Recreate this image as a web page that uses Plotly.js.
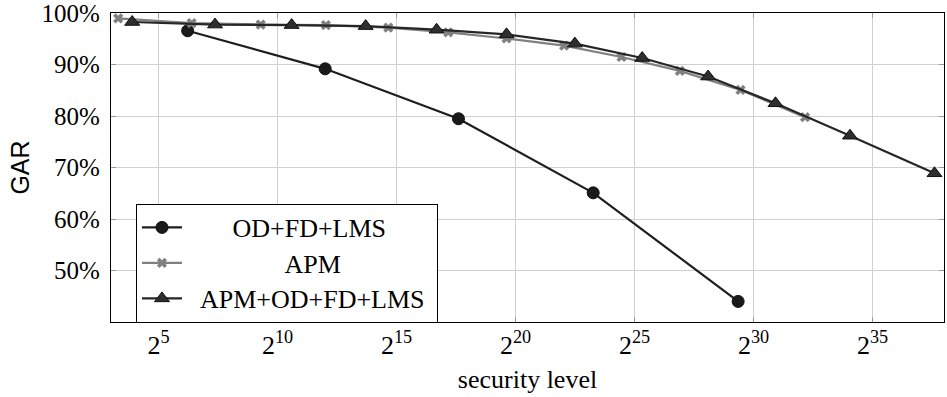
<!DOCTYPE html>
<html>
<head>
<meta charset="utf-8">
<script src="https://cdn.plot.ly/plotly-3.0.1.min.js"></script>
<style>html,body{margin:0;padding:0;background:#fff;}#chart{width:947px;height:397px;}</style>
</head>
<body>
<div id="chart"></div>
<script>
// Data (x = log2 of security level, y = GAR in %)
const odX = [6.22, 12.0, 17.6, 23.26, 29.35];
const odY = [96.6, 89.2, 79.5, 65.1, 44.0];
const apmX = [3.30, 6.39, 9.29, 12.03, 14.65, 17.17, 19.62, 22.04, 24.45, 26.9, 29.45, 32.16];
const apmY = [99.0, 98.1, 97.8, 97.7, 97.2, 96.3, 95.1, 93.7, 91.5, 88.8, 85.1, 79.8];
const allX = [3.89, 7.37, 10.59, 13.7, 16.68, 19.62, 22.49, 25.32, 28.09, 30.92, 34.05, 37.6];
const allY = [98.3, 97.8, 97.7, 97.5, 96.8, 95.9, 94.1, 91.3, 87.7, 82.5, 76.2, 68.9];
const seriesNames = ['OD+FD+LMS', 'APM', 'APM+OD+FD+LMS'];
const xTickVals = [5, 10, 15, 20, 25, 30, 35];
const xTickText = ['2<sup>5</sup>', '2<sup>10</sup>', '2<sup>15</sup>', '2<sup>20</sup>', '2<sup>25</sup>', '2<sup>30</sup>', '2<sup>35</sup>'];
const yTickVals = [50, 60, 70, 80, 90, 100];
const yTickText = ['50%', '60%', '70%', '80%', '90%', '100%'];

const serif = '"Liberation Serif", "Times New Roman", serif';
const sans = '"Liberation Sans", Arial, sans-serif';
const nb = n => '\u00a0'.repeat(n);
const big = s => '<span style="font-size:26px">' + s + '</span>';

const traces = [
  {x: odX, y: odY, name: big(nb(7) + seriesNames[0]), mode: 'lines+markers', type: 'scatter',
   line: {color: '#1e1e1e', width: 2.2},
   marker: {symbol: 'circle', size: 12, color: '#1a1a1a', line: {color: '#111', width: 1}}},
  {x: apmX, y: apmY, name: big(nb(15) + seriesNames[1]), mode: 'lines+markers', type: 'scatter',
   line: {color: '#808080', width: 2.2},
   marker: {symbol: 'x', size: 9, color: '#808080', line: {width: 0}}},
  {x: allX, y: allY, name: big(nb(2) + seriesNames[2] + nb(1)), mode: 'lines+markers', type: 'scatter',
   line: {color: '#262626', width: 2.2},
   marker: {symbol: 'triangle-up', size: 13, color: '#2e2e2e', line: {color: '#111', width: 1}}}
];

const layout = {
  width: 947, height: 397,
  margin: {l: 111, r: 3, t: 13, b: 75},
  paper_bgcolor: '#fff', plot_bgcolor: '#fff',
  showlegend: true,
  font: {family: serif, color: '#000'},
  xaxis: {
    range: [3, 38], tickmode: 'array', tickvals: xTickVals, ticktext: xTickText,
    showgrid: true, gridcolor: '#d0d0d0', gridwidth: 1,
    zeroline: false, showline: true, linecolor: '#000', linewidth: 1.2, mirror: 'ticks',
    ticks: 'inside', ticklen: 5, tickcolor: '#999', tickwidth: 1,
    tickfont: {family: serif, size: 26, color: '#000'},
    title: {text: 'security level', font: {family: serif, size: 26, color: '#000'}, standoff: 10}
  },
  yaxis: {
    range: [40, 100.05], tickmode: 'array', tickvals: yTickVals,
    ticktext: yTickText.map(t => t + '\u2009'),
    showgrid: true, gridcolor: '#d0d0d0', gridwidth: 1,
    zeroline: false, showline: true, linecolor: '#000', linewidth: 1.2, mirror: 'ticks',
    ticks: 'inside', ticklen: 5, tickcolor: '#999', tickwidth: 1,
    tickfont: {family: serif, size: 25, color: '#000'},
    title: {text: 'GAR', font: {family: sans, size: 25, color: '#000'}, standoff: 4}
  },
  legend: {
    x: 0.03, y: 0.383, xanchor: 'left', yanchor: 'top',
    bgcolor: '#fff', bordercolor: '#000', borderwidth: 1,
    font: {family: serif, size: 25, color: '#000'},
    tracegroupgap: 0, itemwidth: 40
  }
};

Plotly.newPlot('chart', traces, layout, {displayModeBar: false, staticPlot: true});
</script>
</body>
</html>
